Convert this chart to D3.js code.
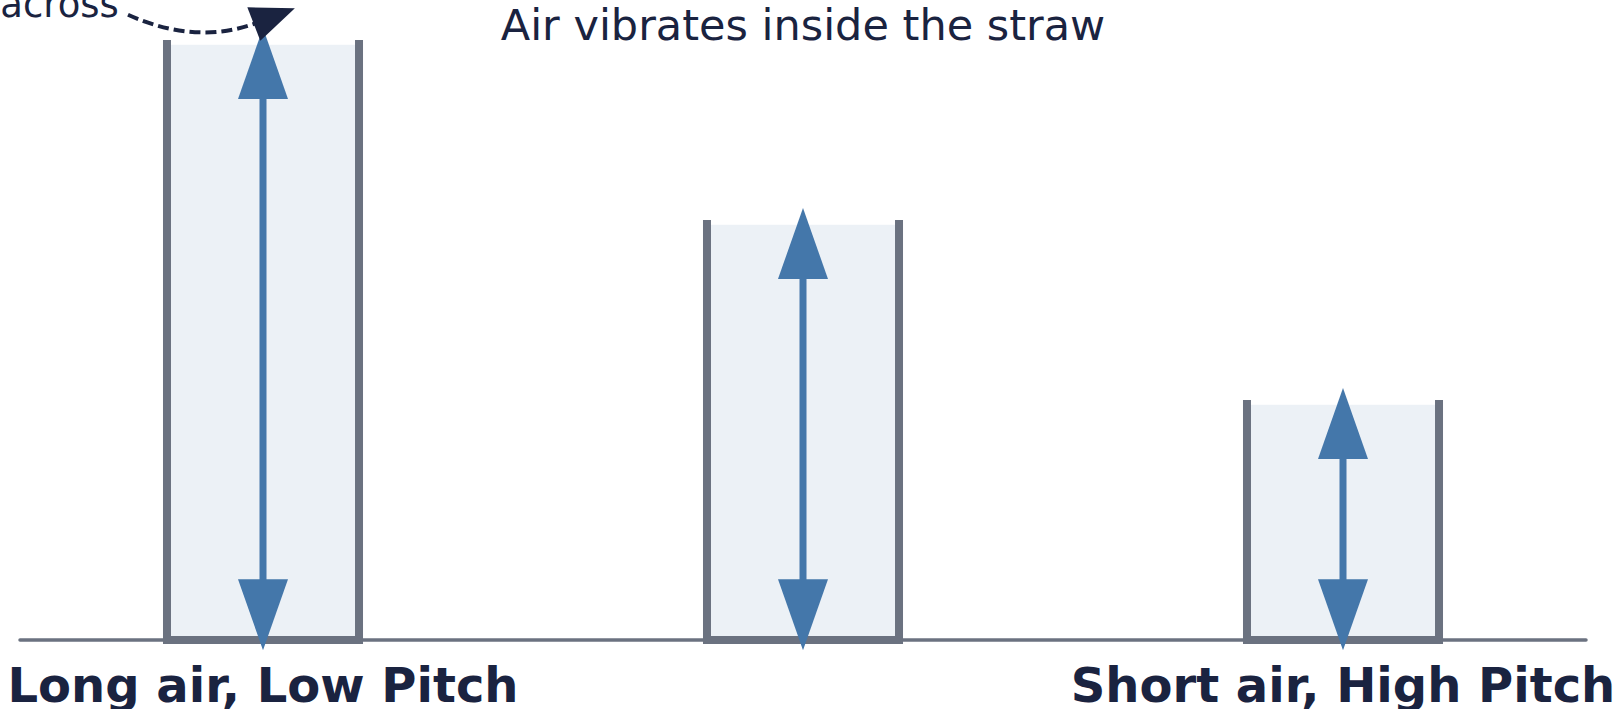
<!DOCTYPE html>
<html>
<head>
<meta charset="utf-8">
<script src="https://cdn.jsdelivr.net/npm/d3@7"></script>
<style>
  body { margin: 0; background: #fff; }
  svg { display: block; }
  text { font-family: "DejaVu Sans", sans-serif; }
</style>
</head>
<body>
<div id="viz"></div>
<script>
(function() {

    var width = 1619;
    var height = 709;

    // straws: position and air column length
    var positions = [0, 1, 2];
    var lengths = [10, 7, 4];
    var labels = ["Long air, Low Pitch", "", "Short air, High Pitch"];

    // annotation texts
    var titleText = "Air vibrates inside the straw";
    var blowText = "Blow across";
    // blow arrow in data units: start, control, tip
    var blowStart = [-0.25, 10.42];
    var blowCtrl = [-0.122, 9.9];
    var blowTip = [0.059, 10.53];

    var halfWidth = 0.1778;
    var ground = [-0.45, 2.45];

    var wallColor = "#6b7280";
    var blue = "#4477aa";
    var ink = "#1a2340";

    var svg = d3.select("#viz")
        .append("svg")
        .attr("width", width)
        .attr("height", height);

    var x = d3.scaleLinear().domain([0, 2]).range([263, 1343]);
    var y = d3.scaleLinear().domain([0, 10]).range([640, 40]);

    var straws = positions.map(function(p, i) {
        return { pos: p, len: lengths[i], label: labels[i] };
    });

    //Ground line
    svg.append("line")
        .attr("x1", x(ground[0]))
        .attr("x2", x(ground[1]))
        .attr("y1", y(0))
        .attr("y2", y(0))
        .attr("stroke", wallColor)
        .attr("stroke-width", 3.5)
        .attr("stroke-linecap", "round");

    //Air inside
    svg.selectAll(".air")
        .data(straws)
        .enter().append("rect")
        .attr("class", "air")
        .attr("x", function(d) { return x(d.pos - halfWidth); })
        .attr("width", function(d) { return x(d.pos + halfWidth) - x(d.pos - halfWidth); })
        .attr("y", function(d) { return y(d.len - 0.08); })
        .attr("height", function(d) { return y(0) - y(d.len - 0.08); })
        .attr("fill", blue)
        .attr("fill-opacity", 0.1);

    //Straw walls
    svg.selectAll(".straw")
        .data(straws)
        .enter().append("path")
        .attr("class", "straw")
        .attr("d", function(d) {
            var l = x(d.pos - halfWidth), r = x(d.pos + halfWidth);
            return "M" + l + "," + y(d.len) + "L" + l + "," + y(0) +
                   "L" + r + "," + y(0) + "L" + r + "," + y(d.len);
        })
        .attr("fill", "none")
        .attr("stroke", wallColor)
        .attr("stroke-width", 8)
        .attr("stroke-linejoin", "miter");

    //Double arrows for the vibrating air
    var headLen = 71, headW = 50, shaftW = 7;
    var arrows = svg.selectAll(".vib")
        .data(straws)
        .enter().append("g")
        .attr("class", "vib")
        .attr("fill", blue);

    arrows.append("rect")
        .attr("x", function(d) { return x(d.pos) - shaftW / 2; })
        .attr("width", shaftW)
        .attr("y", function(d) { return y(d.len + 0.2) + headLen - 2; })
        .attr("height", function(d) { return y(-0.17) - y(d.len + 0.2) - 2 * headLen + 4; });

    arrows.append("path")
        .attr("d", function(d) {
            var cx = x(d.pos), t = y(d.len + 0.2);
            return "M" + cx + "," + t + "L" + (cx + headW / 2) + "," + (t + headLen) +
                   "L" + (cx - headW / 2) + "," + (t + headLen) + "Z";
        });

    arrows.append("path")
        .attr("d", function(d) {
            var cx = x(d.pos), b = y(-0.17);
            return "M" + cx + "," + b + "L" + (cx + headW / 2) + "," + (b - headLen) +
                   "L" + (cx - headW / 2) + "," + (b - headLen) + "Z";
        });

    //Title
    svg.append("text")
        .attr("x", x(1))
        .attr("y", y(10))
        .attr("text-anchor", "middle")
        .attr("font-size", "43px")
        .attr("fill", ink)
        .text(titleText);

    //Blow across note
    svg.append("text")
        .attr("x", x(-0.267))
        .attr("y", y(10.38))
        .attr("text-anchor", "end")
        .attr("font-size", "37px")
        .attr("fill", ink)
        .text(blowText);

    //Dashed curved arrow
    var p0 = [x(blowStart[0]), y(blowStart[1])];
    var c = [x(blowCtrl[0]), y(blowCtrl[1])];
    var tip = [x(blowTip[0]), y(blowTip[1])];
    var dx = tip[0] - c[0], dy = tip[1] - c[1];
    var dl = Math.sqrt(dx * dx + dy * dy);
    var ux = dx / dl, uy = dy / dl;
    var bLen = 44, bW = 36;
    var base = [tip[0] - ux * bLen, tip[1] - uy * bLen];

    var curve = d3.path();
    curve.moveTo(p0[0], p0[1]);
    curve.quadraticCurveTo(c[0], c[1], base[0] + ux * 6, base[1] + uy * 6);
    svg.append("path")
        .attr("d", curve.toString())
        .attr("fill", "none")
        .attr("stroke", ink)
        .attr("stroke-width", 4)
        .attr("stroke-dasharray", "11,5");

    svg.append("path")
        .attr("d", "M" + tip[0] + "," + tip[1] +
            "L" + (base[0] - uy * bW / 2) + "," + (base[1] + ux * bW / 2) +
            "L" + (base[0] + uy * bW / 2) + "," + (base[1] - ux * bW / 2) + "Z")
        .attr("fill", ink);

    //Bottom labels
    svg.selectAll(".label")
        .data(straws.filter(function(d) { return d.label !== ""; }))
        .enter().append("text")
        .attr("class", "label")
        .attr("x", function(d) { return x(d.pos); })
        .attr("y", y(-1.03))
        .attr("text-anchor", "middle")
        .attr("font-size", "48px")
        .attr("font-weight", "bold")
        .attr("fill", ink)
        .text(function(d) { return d.label; });

})();
</script>
</body>
</html>
